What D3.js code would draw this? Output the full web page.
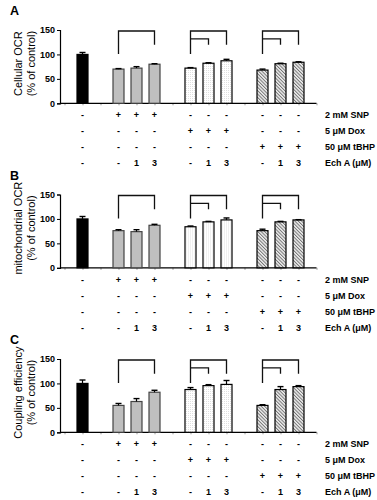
<!DOCTYPE html>
<html>
<head>
<meta charset="utf-8">
<script src="https://cdn.jsdelivr.net/npm/d3@7"></script>
<style>
  body { margin: 0; background: #fff; }
  text { font-family: "Liberation Sans", Arial, sans-serif; }
</style>
</head>
<body>
<svg id="chart"></svg>
<script>
// conditions, in drawing order
const groups = [
  ["ctrl"],
  ["snp0", "snp1", "snp3"],
  ["dox0", "dox1", "dox3"],
  ["tb0", "tb1", "tb3"]
];
const categories = groups.flat();

// values (% of control) and their error
const cellularOCR = [100, 70, 72, 80, 72, 82, 87, 68, 81, 84];
const cellularErr = [4, 1, 3, 1, 1, 1, 3, 2, 1, 1];
const mitoOCR     = [100, 76, 74, 87, 84, 94, 98, 76, 94, 98];
const mitoErr     = [5, 2, 4, 2, 1.5, 1, 4, 3, 1, 0.5];
const coupling    = [100, 55, 63, 82, 87.5, 95.5, 98, 55, 87.5, 93.5];
const couplingErr = [7, 4, 6, 4, 4, 2, 8, 1.5, 6, 2];

const panelLetters = ["A", "B", "C"];
const yTitles = [
  ["Cellular OCR", "(% of control)"],
  ["mitochondrial OCR", "(% of control)"],
  ["Coupling efficiency", "(% of control)"]
];
const yTicks = [0, 50, 100, 150];

// treatment table under each panel
const rowLabels = ["2 mM SNP", "5 \u03bcM Dox", "50 \u03bcM tBHP", "Ech A (\u03bcM)"];
const rowMarks = [
  ["-", "+", "+", "+", "-", "-", "-", "-", "-", "-"],
  ["-", "-", "-", "-", "+", "+", "+", "-", "-", "-"],
  ["-", "-", "-", "-", "-", "-", "-", "+", "+", "+"],
  ["-", "-", "1", "3", "-", "1", "3", "-", "1", "3"]
];

// significance brackets: [from, to]
const brackets = [["snp0", "snp3"], ["dox0", "dox3"], ["dox0", "dox1"], ["tb0", "tb3"], ["tb0", "tb1"]];

const panels = [
  { values: cellularOCR, err: cellularErr },
  { values: mitoOCR, err: mitoErr },
  { values: coupling, err: couplingErr }
];

const width = 377, height = 500;
const svg = d3.select("#chart").attr("width", width).attr("height", height);

const defs = svg.append("defs");
const dots = defs.append("pattern").attr("id", "dots")
  .attr("patternUnits", "userSpaceOnUse").attr("width", 2).attr("height", 2);
dots.append("rect").attr("width", 2).attr("height", 2).attr("fill", "#fff");
dots.append("rect").attr("width", 0.8).attr("height", 0.8).attr("fill", "#cfcfcf");

const hatch = defs.append("pattern").attr("id", "hatch")
  .attr("patternUnits", "userSpaceOnUse").attr("width", 2.4).attr("height", 2.4)
  .attr("patternTransform", "rotate(-45)");
hatch.append("rect").attr("width", 2.4).attr("height", 2.4).attr("fill", "#eee");
hatch.append("line").attr("x1", 0.5).attr("x2", 0.5).attr("y1", 0).attr("y2", 2.4)
  .attr("stroke", "#6a6a6a").attr("stroke-width", 0.9);

const groupFill = ["#000", "#bfbfbf", "url(#dots)", "url(#hatch)"];
const groupStroke = ["#000", "#444", "#000", "#000"];
const groupOf = {};
groups.forEach((g, i) => g.forEach(k => groupOf[k] = i));

// slot domain: groups separated by empty slots
const slots = ["pad0"];
groups.forEach((g, i) => { slots.push(...g); slots.push("gap" + i); });
const x = d3.scalePoint().domain(slots).range([64.5, 316.5]);

const barW = 11;
const step = 164.5;

panels.forEach((p, pi) => {
  const g = svg.append("g").attr("transform", `translate(0, ${pi * step})`);
  const y = d3.scaleLinear().domain([0, 150]).range([103.3, 30]);

  g.append("text").attr("x", 10).attr("y", 15)
    .attr("font-size", 12.5).attr("font-weight", "bold").text(panelLetters[pi]);

  // y title
  yTitles[pi].forEach((t, li) => {
    g.append("text")
      .attr("transform", `translate(${17.5 + li * 13.5}, ${(y(0) + y(150)) / 2 - 3}) rotate(-90)`)
      .attr("text-anchor", "middle").attr("dominant-baseline", "central")
      .attr("font-size", 11).text(t);
  });

  // y axis
  const yAxis = g.append("g").attr("transform", "translate(60,0)")
    .call(d3.axisLeft(y).tickValues(yTicks).tickSize(3).tickPadding(2));
  yAxis.select(".domain").attr("stroke-width", 1.2);
  yAxis.selectAll("text").attr("font-size", 9).attr("font-weight", "bold")
    .attr("font-family", "Liberation Sans, Arial, sans-serif");

  // x axis
  const xAxis = g.append("g").attr("transform", `translate(0, ${y(0)})`)
    .call(d3.axisBottom(x).tickSize(2).tickFormat(""));
  xAxis.select(".domain").remove();
  xAxis.selectAll(".tick line").attr("stroke", "#999");
  g.append("line").attr("x1", 60).attr("x2", 316.5)
    .attr("y1", y(0)).attr("y2", y(0)).attr("stroke", "#000").attr("stroke-width", 1.2);

  // bars
  g.selectAll("rect.bar").data(p.values).join("rect").attr("class", "bar")
    .attr("x", (d, i) => x(categories[i]) - barW / 2)
    .attr("y", d => y(d))
    .attr("width", barW)
    .attr("height", d => y(0) - y(d))
    .attr("fill", (d, i) => groupFill[groupOf[categories[i]]])
    .attr("stroke", (d, i) => groupStroke[groupOf[categories[i]]])
    .attr("stroke-width", 1.2);

  // upper error bars
  const eb = g.selectAll("g.err").data(p.values).join("g").attr("class", "err");
  eb.append("line")
    .attr("x1", (d, i) => x(categories[i])).attr("x2", (d, i) => x(categories[i]))
    .attr("y1", d => y(d)).attr("y2", (d, i) => y(d + p.err[i]))
    .attr("stroke", "#000").attr("stroke-width", 1.2);
  eb.append("line")
    .attr("x1", (d, i) => x(categories[i]) - 3).attr("x2", (d, i) => x(categories[i]) + 3)
    .attr("y1", (d, i) => y(d + p.err[i])).attr("y2", (d, i) => y(d + p.err[i]))
    .attr("stroke", "#000").attr("stroke-width", 1.4);

  // brackets
  brackets.forEach(([a, b]) => {
    const outer = b.endsWith("3");
    const top = outer ? y(148) : y(132);
    const path = d3.path();
    if (outer) {
      path.moveTo(x(a), y(101));
      path.lineTo(x(a), top);
    } else {
      path.moveTo(x(a), top);
    }
    path.lineTo(x(b), top);
    path.lineTo(x(b), y(120));
    g.append("path").attr("d", path.toString())
      .attr("fill", "none").attr("stroke", "#111").attr("stroke-width", 1.3);
  });

  // treatment table
  rowMarks.forEach((row, ri) => {
    const by = y(0) + 15 + ri * 16;
    g.selectAll(null).data(row).join("text")
      .attr("x", (d, i) => x(categories[i]))
      .attr("y", by)
      .attr("text-anchor", "middle")
      .attr("font-size", 9).attr("font-weight", "bold")
      .text(d => d);
    g.append("text").attr("x", 325).attr("y", by)
      .attr("font-size", 9).attr("font-weight", "bold").text(rowLabels[ri]);
  });
});
</script>
</body>
</html>
